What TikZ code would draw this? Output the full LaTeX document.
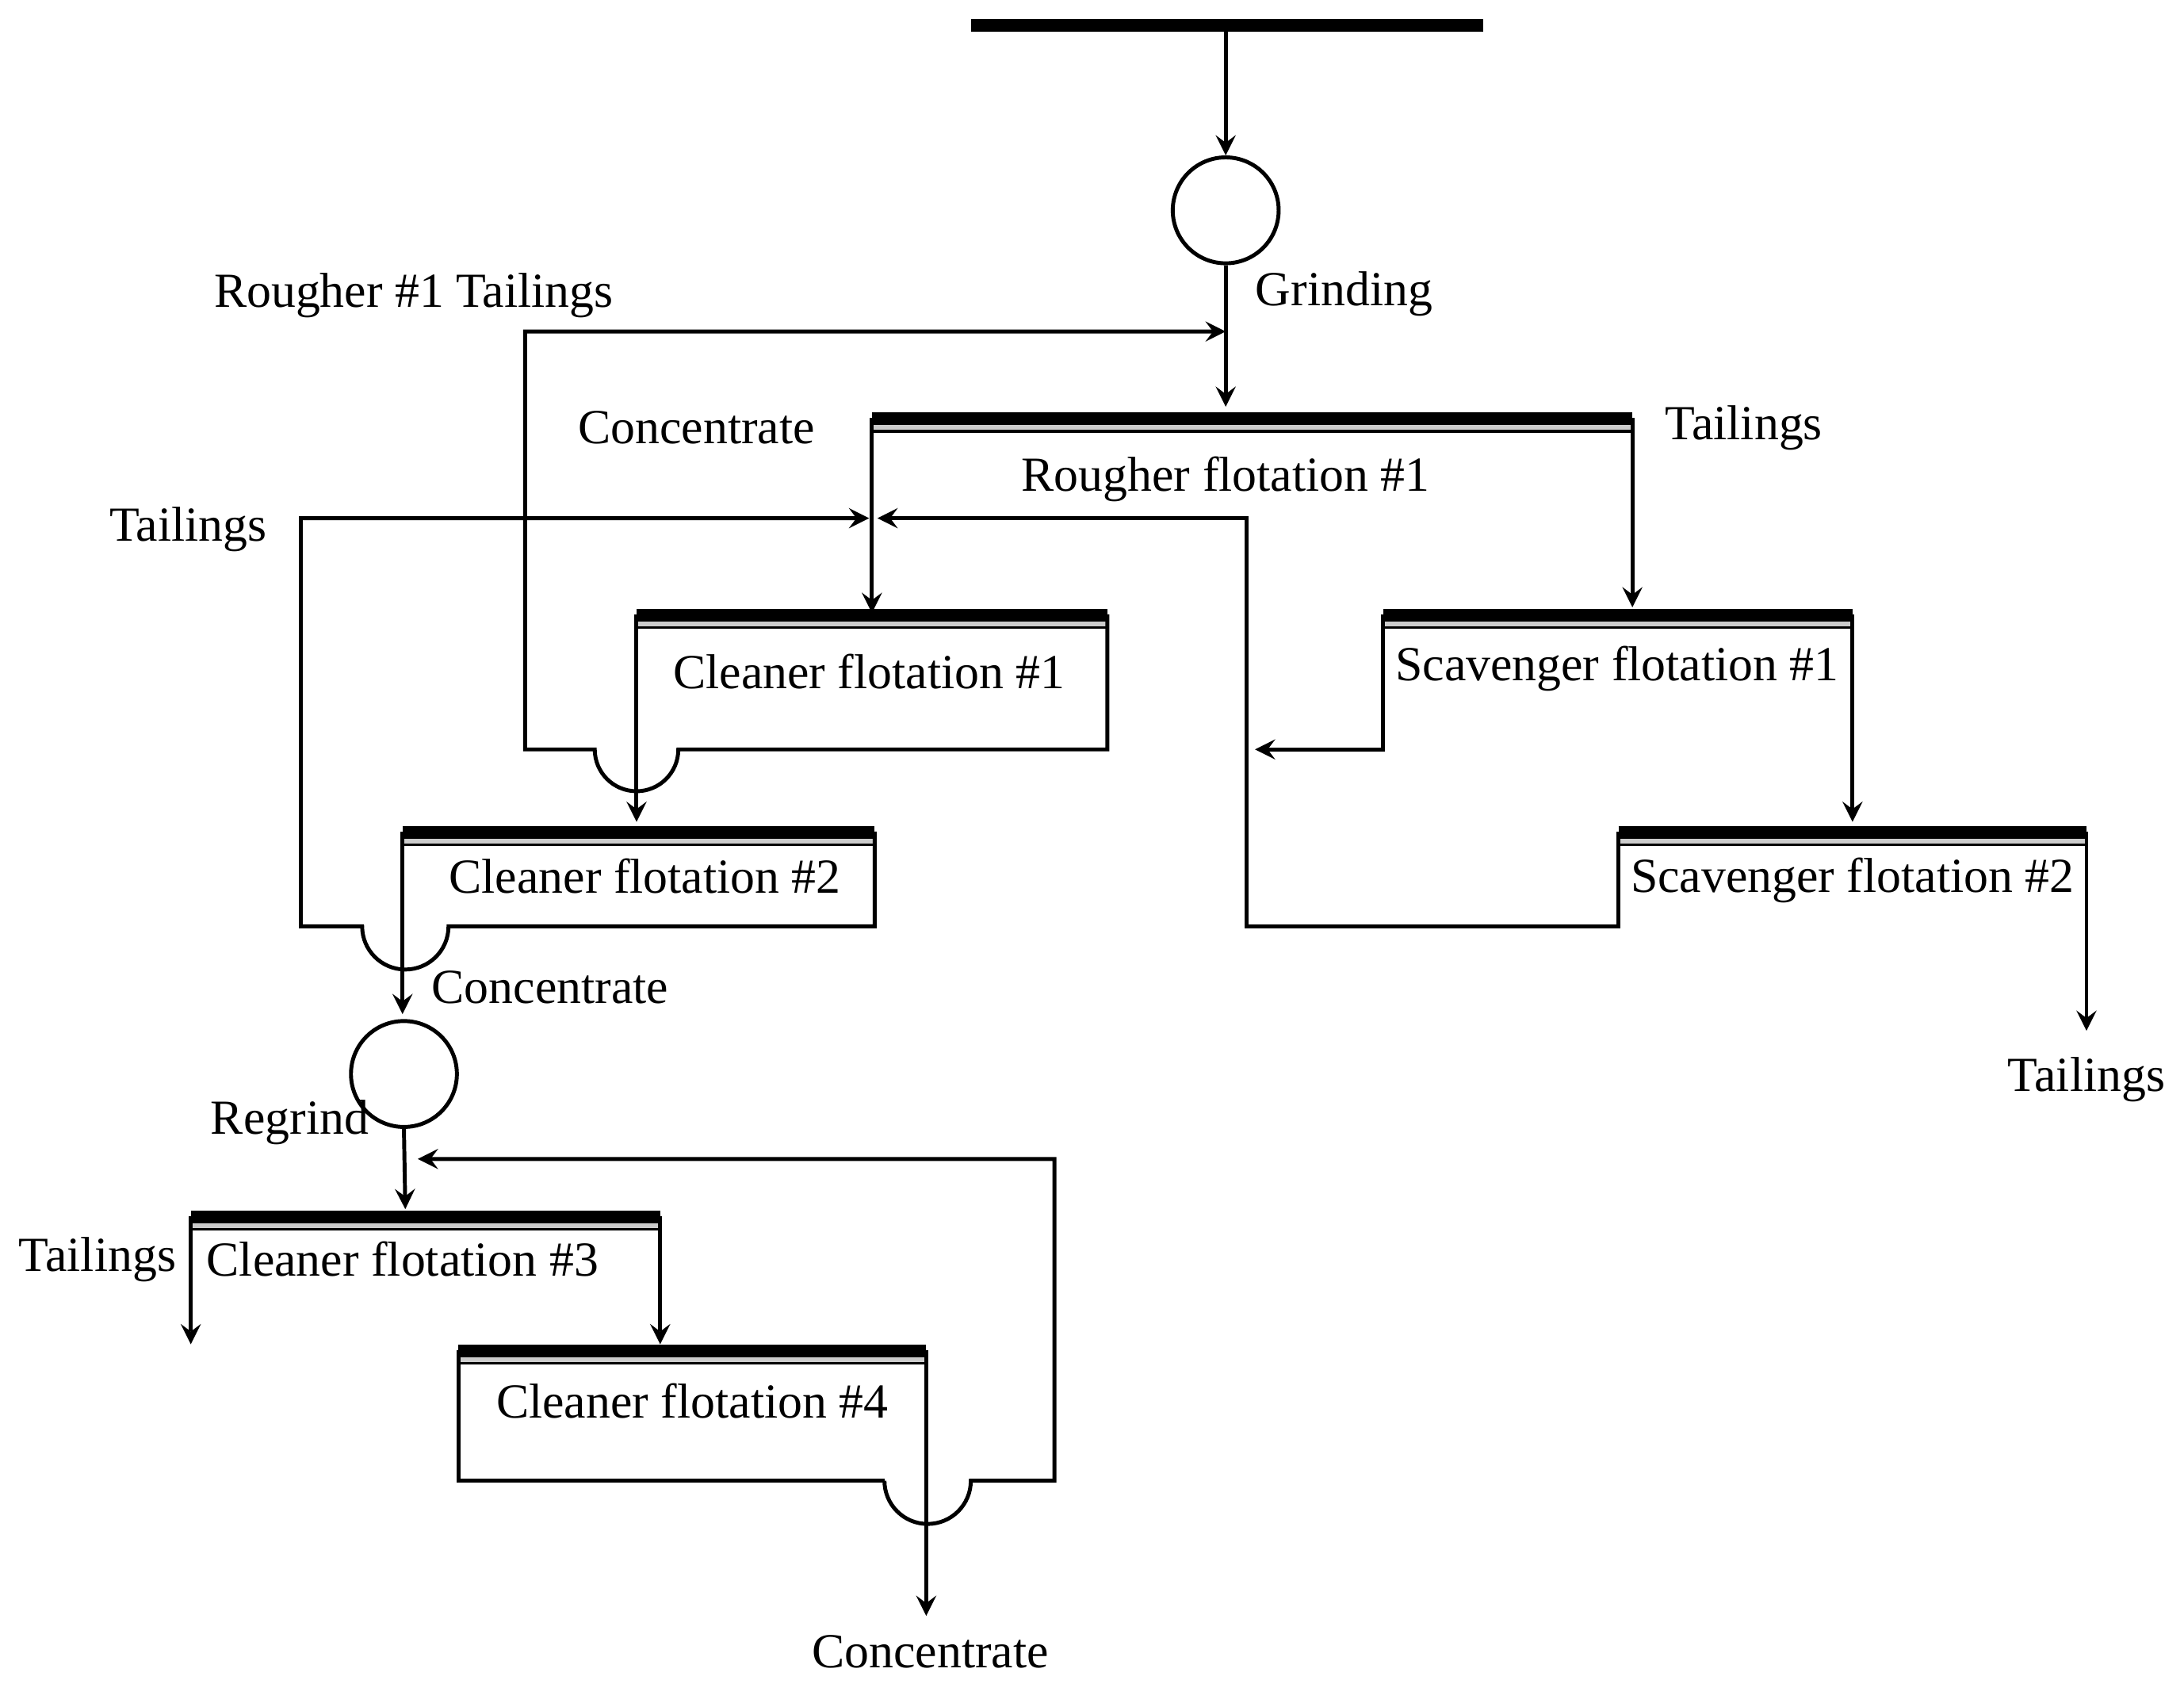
\documentclass[tikz,border=0pt]{standalone}
\usepackage{fontspec}
\setmainfont{Liberation Serif}
\usetikzlibrary{arrows, positioning}
\tikzset{
	flow/.style = {->, >=stealth, line width=0.8pt},
	pipe/.style = {line width=0.8pt},
	bar/.style = {line width=2.2pt},
	lbl/.style = {font=\fontsize{10}{12}\selectfont, inner sep=1pt},
	mill/.style = {circle, draw, line width=0.8pt, minimum size=0.76cm, inner sep=0pt}
}
% top of a flotation cell: thick bar plus a double thin line below
\newcommand{\celltop}[3]{
	\draw [bar] (#1,#3) -- (#2,#3);
	\draw [line width=0.5pt, double=gray!40, double distance=1pt] (#1,#3+7) -- (#2,#3+7);
}

\begin{document}
\begin{tikzpicture}[x=0.01cm, y=-0.01cm]
\useasboundingbox (0,0) rectangle (1568,1222);

% --- Feed and grinding ---
\draw [line width=2.6pt] (697,18) -- (1065,18);
\coordinate (feed) at (880,18);
\node (grind) [mill] at (880,151) {};
\node [lbl] at (965,211) {Grinding};
\draw [flow] (feed) -- (grind.north);

% --- Cells ---
\celltop{626}{1172}{300}
\node [lbl] at (880,344) {Rougher flotation \#1};
\node [lbl] at (500,307) {Concentrate};
\node [lbl] at (1252,307) {Tailings};

\celltop{457}{795}{441}
\node [lbl] at (624,482) {Cleaner flotation \#1};

\celltop{289}{628}{597}
\node [lbl] at (463,629) {Cleaner flotation \#2};

\celltop{993}{1330}{441}
\node [lbl] at (1161,480) {Scavenger flotation \#1};

\celltop{1162}{1498}{597}
\node [lbl] at (1330,632) {Scavenger flotation \#2};

\celltop{137}{474}{873}
\node [lbl] at (289,904) {Cleaner flotation \#3};

\celltop{329}{665}{969}
\node [lbl] at (497,1006) {Cleaner flotation \#4};

\node (regrind) [mill] at (290,771) {};
\node [lbl] at (208,806) {Regrind};

% --- Labels ---
\node [lbl] at (297,212) {Rougher \#1 Tailings};
\node [lbl] at (135,380) {Tailings};
\node [lbl] at (395,709) {Concentrate};
\node [lbl] at (1498,775) {Tailings};
\node [lbl] at (70,904) {Tailings};
\node [lbl] at (668,1186) {Concentrate};

% --- Streams ---
\draw [flow] (grind.south) -- (880,292);
\draw [flow] (626,300) -- (626,440);
\draw [flow] (1172,300) -- (1172,436);

\draw [flow] (795,441) -- (795,538) -- (487,538) arc (0:180:30) -- (377,538) -- (377,238) -- (880,238);
\draw [flow] (457,441) -- (457,590);

\draw [flow] (628,597) -- (628,665) -- (322,665) arc (0:180:31) -- (216,665) -- (216,372) -- (624,372);
\draw [flow] (289,597) -- (289,728);

\draw [flow] (993,441) -- (993,538) -- (901,538);
\draw [flow] (1330,441) -- (1330,590);

\draw [flow] (1162,597) -- (1162,665) -- (895,665) -- (895,372) -- (630,372);
\draw [flow] (1498,597) -- (1498,740);

\draw [flow] (regrind.south) -- (291,868);
\draw [flow] (137,873) -- (137,965);
\draw [flow] (474,873) -- (474,965);

\draw [pipe] (329,969) -- (329,1063) -- (635,1063);
\draw [flow] (665,969) -- (665,1160);
\draw [flow] (635,1063) arc (180:0:31) -- (757,1063) -- (757,832) -- (300,832);

\end{tikzpicture}
\end{document}
